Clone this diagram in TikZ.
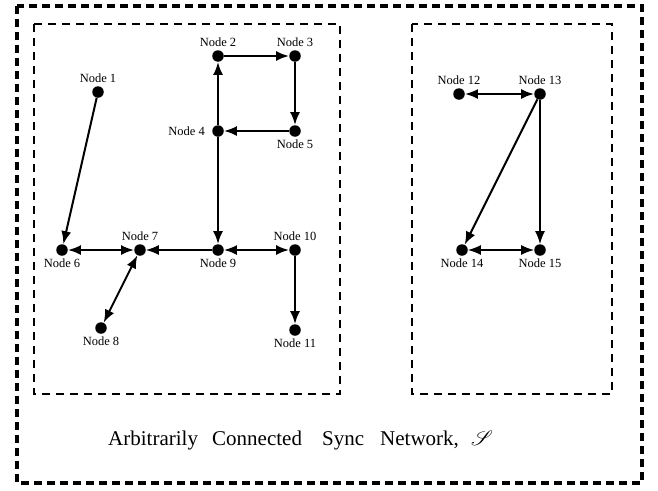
\documentclass[tikz,border=0pt]{standalone}
\usepackage{fontspec}
\setmainfont{Liberation Serif}
\usepackage{mathrsfs}
\usetikzlibrary{arrows.meta}

\tikzset{
  dot/.style={circle, fill=black, inner sep=0pt, minimum size=11.5pt},
  nlabel/.style={font=\fontsize{12.5}{14}\selectfont, inner sep=0pt, label distance=3pt},
  link/.style={line width=2pt, -{Latex[length=13pt,width=10pt]}},
  blink/.style={line width=2pt, {Latex[length=13pt,width=10pt]}-{Latex[length=13pt,width=10pt]}},
  thin link/.style={line width=1.3pt},
  outerbox/.style={line width=3.4pt, dash pattern=on 8pt off 5pt},
  innerbox/.style={line width=2.6pt, dash pattern=on 8pt off 6pt},
  caption/.style={font=\fontsize{21}{24}\selectfont, anchor=base west, inner sep=0pt}
}

\begin{document}
\begin{tikzpicture}[x=1pt, y=-1pt]
\useasboundingbox (0,0) rectangle (658,490);

% frames
\draw[outerbox] (17,6) rectangle (642,483);
\draw[innerbox] (34,24) rectangle (340,394);
\draw[innerbox] (412,24) rectangle (612,394);

% left group of nodes
\node[dot, label={[nlabel, name=l1]above:Node 1}] (n1) at (98,92) {};
\node[dot, label={[nlabel, name=l2]above:Node 2}] (n2) at (218,56) {};
\node[dot, label={[nlabel, name=l3]above:Node 3}] (n3) at (295,56) {};
\node[dot, label={[nlabel, name=l4, label distance=7pt]left:Node 4}] (n4) at (218,131) {};
\node[dot, label={[nlabel, name=l5]below:Node 5}] (n5) at (295,131) {};
\node[dot, label={[nlabel, name=l6]below:Node 6}] (n6) at (62,250) {};
\node[dot, label={[nlabel, name=l7]above:Node 7}] (n7) at (140,250) {};
\node[dot, label={[nlabel, name=l8]below:Node 8}] (n8) at (101,328) {};
\node[dot, label={[nlabel, name=l9]below:Node 9}] (n9) at (218,250) {};
\node[dot, label={[nlabel, name=l10]above:Node 10}] (n10) at (295,250) {};
\node[dot, label={[nlabel, name=l11]below:Node 11}] (n11) at (295,330) {};

% right group of nodes
\node[dot, label={[nlabel, name=l12]above:Node 12}] (n12) at (459,94) {};
\node[dot, label={[nlabel, name=l13]above:Node 13}] (n13) at (540,94) {};
\node[dot, label={[nlabel, name=l14]below:Node 14}] (n14) at (462,250) {};
\node[dot, label={[nlabel, name=l15]below:Node 15}] (n15) at (540,250) {};

% connections, left group
\draw[link] (n1) -- (n6);
\draw[link] (n2) -- (n3);
\draw[link] (n3) -- (n5);
\draw[link] (n5) -- (n4);
\draw[link] (n4) -- (n2);
\draw[link] (n4) -- (n9);
\draw[blink] (n6) -- (n7);
\draw[link, thin link] (n9) -- (n7);
\draw[blink] (n9) -- (n10);
\draw[blink] (n7) -- (n8);
\draw[link] (n10) -- (n11);

% connections, right group
\draw[blink] (n12) -- (n13);
\draw[link] (n13) -- (n14);
\draw[link, thin link] (n13) -- (n15);
\draw[blink, thin link] (n14) -- (n15);

% caption
\node[caption] (c1) at (108,445) {Arbitrarily};
\node[caption] (c2) at (212,445) {Connected};
\node[caption] (c3) at (322,445) {Sync};
\node[caption] (c4) at (380,445) {Network,};
\node[caption] (c5) at (471,445) {$\mathscr{S}$};
\end{tikzpicture}
\end{document}
